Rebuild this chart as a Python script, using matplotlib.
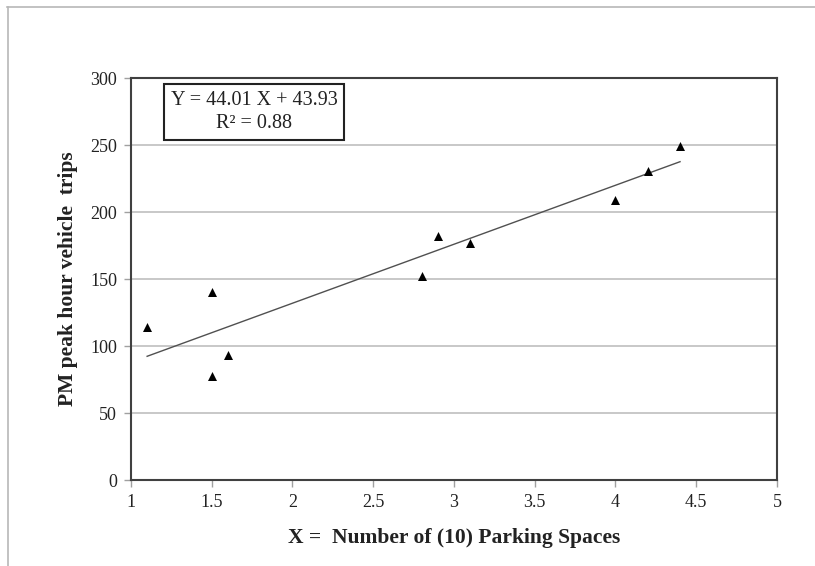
import numpy as np
import matplotlib.pyplot as plt
from matplotlib.lines import Line2D

# parking spaces (x10) vs PM peak hour vehicle trips
spaces = [1.1, 1.5, 1.5, 1.6, 2.8, 2.9, 3.1, 4.0, 4.2, 4.4]
trips = [114, 140, 78, 93, 152, 182, 177, 209, 231, 249]

slope = 44.01
intercept = 43.93
r2 = 0.88

x_ticks = [1, 1.5, 2, 2.5, 3, 3.5, 4, 4.5, 5]
x_labels = ['1', '1.5', '2', '2.5', '3', '3.5', '4', '4.5', '5']
y_ticks = [0, 50, 100, 150, 200, 250, 300]

plt.rcParams['font.family'] = ['Liberation Serif', 'DejaVu Serif']

fig = plt.figure(figsize=(8.15, 5.66), dpi=100)
ax = fig.add_axes([0.1607, 0.1519, 0.7926, 0.7102])

# outer chart border (top and left only)
fig.add_artist(Line2D([7 / 815, 1], [1 - 7 / 566, 1 - 7 / 566], color='#b8b8b8', lw=1.2))
fig.add_artist(Line2D([8 / 815, 8 / 815], [0, 1 - 7 / 566], color='#b8b8b8', lw=1.2))

ax.scatter(spaces, trips, marker='^', s=42, color='black', zorder=3, linewidths=0)

xs = np.array([min(spaces), max(spaces)])
ax.plot(xs, slope * xs + intercept, color='#505050', lw=1.0, zorder=2)

ax.set_xlim(1, 5)
ax.set_ylim(0, 300)
ax.set_xticks(x_ticks)
ax.set_xticklabels(x_labels)
ax.set_yticks(y_ticks)
ax.yaxis.grid(True, color='#c4c4c4', lw=1.3)
ax.set_axisbelow(True)

for s in ax.spines.values():
    s.set_color('#404040')
    s.set_linewidth(1.5)
ax.tick_params(axis='both', direction='out', length=5, width=1, color='#a0a0a0',
               labelsize=13, labelcolor='#222222', pad=5)

ax.set_xlabel('X =  Number of (10) Parking Spaces', fontsize=15.5, fontweight='bold',
              color='#222222', labelpad=12)
ax.set_ylabel('PM peak hour vehicle  trips', fontsize=15.5, fontweight='bold',
              color='#222222', labelpad=9)

ax.text(0.191, 0.915, 'Y = %.2f X + %.2f\nR² = %.2f' % (slope, intercept, r2),
        transform=ax.transAxes, ha='center', va='center', fontsize=14.5,
        color='#222222', linespacing=1.3,
        bbox=dict(boxstyle='square,pad=0.33', facecolor='white', edgecolor='#222222', lw=1.5))

fig.savefig('out.png', dpi=100)
